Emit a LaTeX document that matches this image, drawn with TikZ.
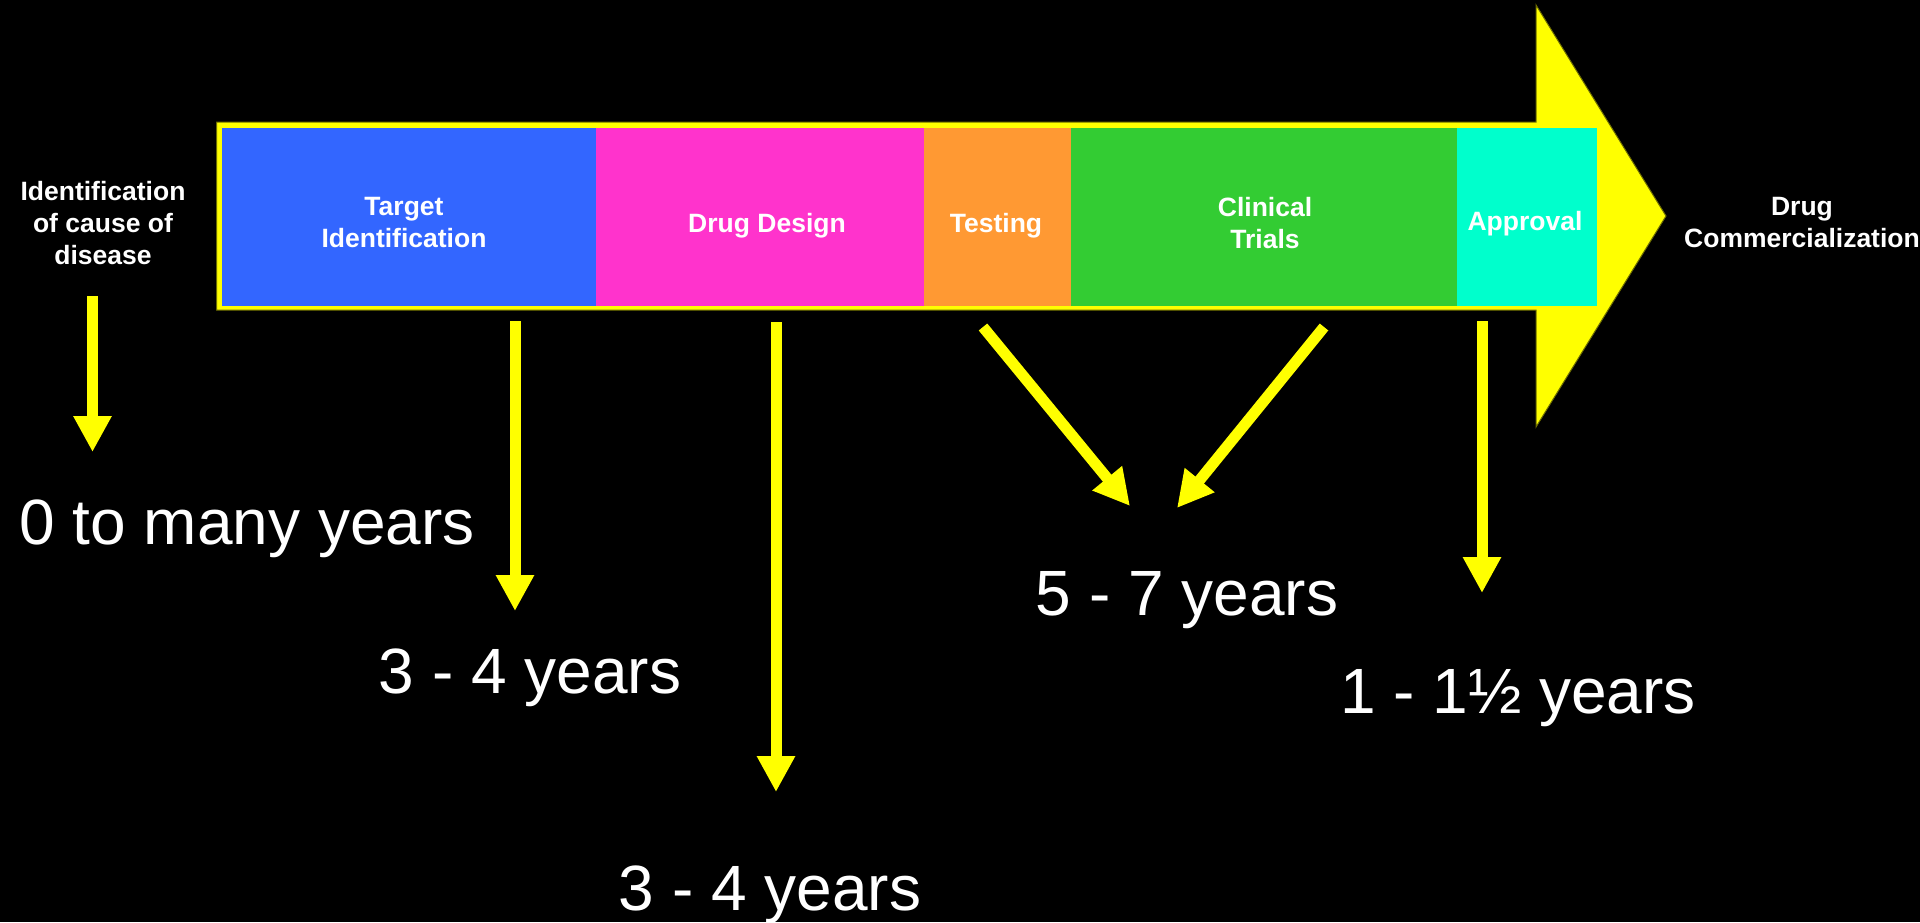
\documentclass[tikz,border=0pt]{standalone}
\usepackage{fontspec}
\setmainfont{Liberation Sans}
\usetikzlibrary{arrows.meta}
\definecolor{yel}{HTML}{FFFF00}
\definecolor{yedge}{HTML}{6B6B00}
\definecolor{cblue}{HTML}{3366FF}
\definecolor{cpink}{HTML}{FF33CC}
\definecolor{corange}{HTML}{FF9933}
\definecolor{cgreen}{HTML}{33CC33}
\definecolor{ccyan}{HTML}{00FFCC}
\begin{document}
\begin{tikzpicture}[x=1pt,y=-1pt,
  bigarrow/.style={fill=yel, draw=yedge, line width=1pt},
  phase/.style={anchor=north west, inner sep=0pt, outer sep=0pt, draw=none, minimum height=178pt},
  lbl/.style={text=white, font=\fontsize{26.5}{32}\selectfont\bfseries, align=center, inner sep=0pt},
  yrs/.style={text=white, font=\fontsize{64}{70}\selectfont, inner sep=0pt, anchor=base},
  yarrow/.style={draw=yel, line width=11pt, -{Triangle[length=36pt,width=36pt]}}
]
\useasboundingbox (0,0) rectangle (1920,922);
\fill[black] (0,0) rectangle (1920,922);
% big yellow arrow
\path[bigarrow] (216.5,122) -- (1536,122) -- (1536,5) -- (1666,216) -- (1536,427) -- (1536,310) -- (216.5,310) -- cycle;
% phases
\node[phase, fill=cblue, minimum width=374pt] (bTarget) at (222,128) {};
\node[phase, fill=cpink, minimum width=328pt] (bDesign) at (596,128) {};
\node[phase, fill=corange, minimum width=147pt] (bTesting) at (924,128) {};
\node[phase, fill=cgreen, minimum width=386pt] (bClinical) at (1071,128) {};
\node[phase, fill=ccyan, minimum width=140pt] (bApproval) at (1457,128) {};
% labels
\node[lbl, anchor=north] (tCause) at (103,181) {Identification\\of cause of\\disease};
\node[lbl, anchor=north] (tTarget) at (404,197) {Target\\Identification};
\node[lbl, anchor=base] (tDesign) at (767,232) {Drug Design};
\node[lbl, anchor=base] (tTesting) at (996,232) {Testing};
\node[lbl, anchor=north] (tClinical) at (1265,197) {Clinical\\Trials};
\node[lbl, anchor=base] (tApproval) at (1525,230) {Approval};
\node[lbl, anchor=north] (tComm) at (1802,197) {Drug\\Commercialization};
% durations
\node[yrs] (y0) at (247,544) {0 to many years};
\node[yrs] (y1) at (530,693) {3 - 4 years};
\node[yrs] (y2) at (770,910) {3 - 4 years};
\node[yrs] (y3) at (1187,615) {5 - 7 years};
\node[yrs] (y4) at (1518,713) {1 - 1½ years};
% arrow ends
\coordinate (s0) at (92.5,296);  \coordinate (e0) at (92.5,452);
\coordinate (s1) at (515,321);   \coordinate (e1) at (515,611);
\coordinate (s2) at (776,322);   \coordinate (e2) at (776,792);
\coordinate (s3) at (983,327);   \coordinate (e3) at (1130,506);
\coordinate (s4) at (1324,327);  \coordinate (e4) at (1177,508);
\coordinate (s5) at (1482,321);  \coordinate (e5) at (1482,593);
\draw[yarrow] (s0) -- (e0);
\draw[yarrow] (s1) -- (e1);
\draw[yarrow] (s2) -- (e2);
\draw[yarrow] (s3) -- (e3);
\draw[yarrow] (s4) -- (e4);
\draw[yarrow] (s5) -- (e5);
\end{tikzpicture}
\end{document}
